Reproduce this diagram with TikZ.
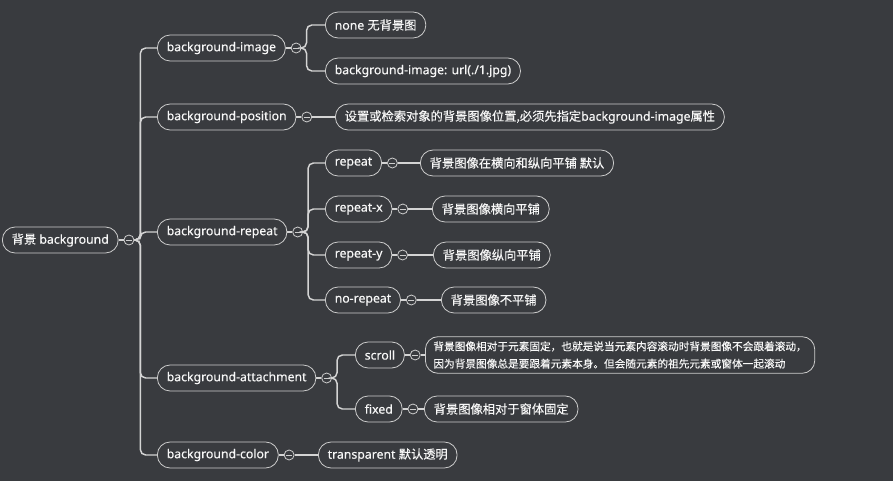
\documentclass[tikz,border=0pt]{standalone}
\usepackage{fontspec}
\setmainfont{Noto Sans}[FakeBold=0.3]
\newfontfamily\cjk{Noto Sans CJK SC}[FakeBold=0.3]
\usetikzlibrary{positioning}
\definecolor{canvas}{HTML}{393B3F}
\definecolor{wire}{HTML}{D4D4D4}
\definecolor{rim}{HTML}{CDCDCD}
\definecolor{ink}{HTML}{F7F7F7}

\begin{document}
\begin{tikzpicture}[x=0.75pt, y=-0.75pt]
        \fill[canvas] (0,0) rectangle (893,481);
        \begin{scope}[every node/.style={draw=rim, line width=0.6pt, fill=canvas, text=ink, rounded corners=9.5pt, minimum height=19.5pt, inner xsep=7pt, inner ysep=2pt, anchor=west, font=\fontsize{9.2}{12}\selectfont}]
            \node (Root) at (2,240) {{\cjk 背景} background};
            \node (Image) at (157,48) {background-image};
            \node (ImgNone) at (325,25) {none {\cjk 无背景图}};
            \node (ImgUrl) at (325,71) {background-image: url(./1.jpg)};
            \node (Position) at (157,117) {background-position};
            \node (PosNote) at (335,117) {{\cjk 设置或检索对象的背景图像位置,必须先指定}background-image{\cjk 属性}};
            \node (Repeat) at (157,232) {background-repeat};
            \node (Rep) at (325,163) {repeat};
            \node (RepNote) at (420,163) {{\cjk 背景图像在横向和纵向平铺 默认}};
            \node (RepX) at (325,209) {repeat-x};
            \node (RepXNote) at (432,209) {{\cjk 背景图像横向平铺}};
            \node (RepY) at (325,255) {repeat-y};
            \node (RepYNote) at (433,255) {{\cjk 背景图像纵向平铺}};
            \node (NoRep) at (325,300) {no-repeat};
            \node (NoRepNote) at (441,300) {{\cjk 背景图像不平铺}};
            \node (Attach) at (157,378) {background-attachment};
            \node (Scroll) at (355,355) {scroll};
            \node (ScrollNote) at (425,355) [align=left, font=\cjk\fontsize{8}{13}\selectfont, inner ysep=3.5pt, inner xsep=6pt] {背景图像相对于元素固定，也就是说当元素内容滚动时背景图像不会跟着滚动，\\因为背景图像总是要跟着元素本身。但会随元素的祖先元素或窗体一起滚动};
            \node (Fixed) at (355,409) {fixed};
            \node (FixedNote) at (424,409) {{\cjk 背景图像相对于窗体固定}};
            \node (Color) at (157,455) {background-color};
            \node (ColorNote) at (318,455) {transparent {\cjk 默认透明}};
        \end{scope}
        \begin{scope}[every node/.style={circle, draw=rim, line width=0.6pt, fill=canvas, minimum size=7.5pt, inner sep=0pt, path picture={\draw[rim, line width=0.6pt] ([xshift=-2.2pt]path picture bounding box.center) -- ([xshift=2.2pt]path picture bounding box.center);}}, every path/.style={draw=wire, line width=1.1pt, rounded corners=4pt}]
            \node (RootF) [right=3.75pt of Root] {};
            \node (ImageF) [right=3.75pt of Image] {};
            \node (PositionF) [right=3.75pt of Position] {};
            \node (RepeatF) [right=3.75pt of Repeat] {};
            \node (RepF) [right=3.75pt of Rep] {};
            \node (RepXF) [right=3.75pt of RepX] {};
            \node (RepYF) [right=3.75pt of RepY] {};
            \node (NoRepF) [right=3.75pt of NoRep] {};
            \node (AttachF) [right=3.75pt of Attach] {};
            \node (ScrollF) [right=3.75pt of Scroll] {};
            \node (FixedF) [right=3.75pt of Fixed] {};
            \node (ColorF) [right=3.75pt of Color] {};
            % main trunk
            \draw (RootF.east) -- ++(6,0) |- (Image.west);
            \draw (RootF.east) -- ++(6,0) |- (Position.west);
            \draw (RootF.east) -- ++(6,0) |- (Repeat.west);
            \draw (RootF.east) -- ++(6,0) |- (Attach.west);
            \draw (RootF.east) -- ++(6,0) |- (Color.west);
            % branches
            \draw (ImageF.east) -- ++(5,0) |- (ImgNone.west);
            \draw (ImageF.east) -- ++(5,0) |- (ImgUrl.west);
            \draw (RepeatF.east) -- ++(5,0) |- (Rep.west);
            \draw (RepeatF.east) -- ++(5,0) |- (RepX.west);
            \draw (RepeatF.east) -- ++(5,0) |- (RepY.west);
            \draw (RepeatF.east) -- ++(5,0) |- (NoRep.west);
            \draw (AttachF.east) -- ++(5,0) |- (Scroll.west);
            \draw (AttachF.east) -- ++(5,0) |- (Fixed.west);
            \path (PositionF) edge (PosNote);
            \path (RepF) edge (RepNote);
            \path (RepXF) edge (RepXNote);
            \path (RepYF) edge (RepYNote);
            \path (NoRepF) edge (NoRepNote);
            \path (ScrollF) edge (ScrollNote);
            \path (FixedF) edge (FixedNote);
            \path (ColorF) edge (ColorNote);
            % stubs
            \path[line width=0.6pt] (Root) edge (RootF) (Image) edge (ImageF) (Position) edge (PositionF) (Repeat) edge (RepeatF) (Rep) edge (RepF) (RepX) edge (RepXF) (RepY) edge (RepYF) (NoRep) edge (NoRepF) (Attach) edge (AttachF) (Scroll) edge (ScrollF) (Fixed) edge (FixedF) (Color) edge (ColorF);
        \end{scope}
\end{tikzpicture}
\end{document}
